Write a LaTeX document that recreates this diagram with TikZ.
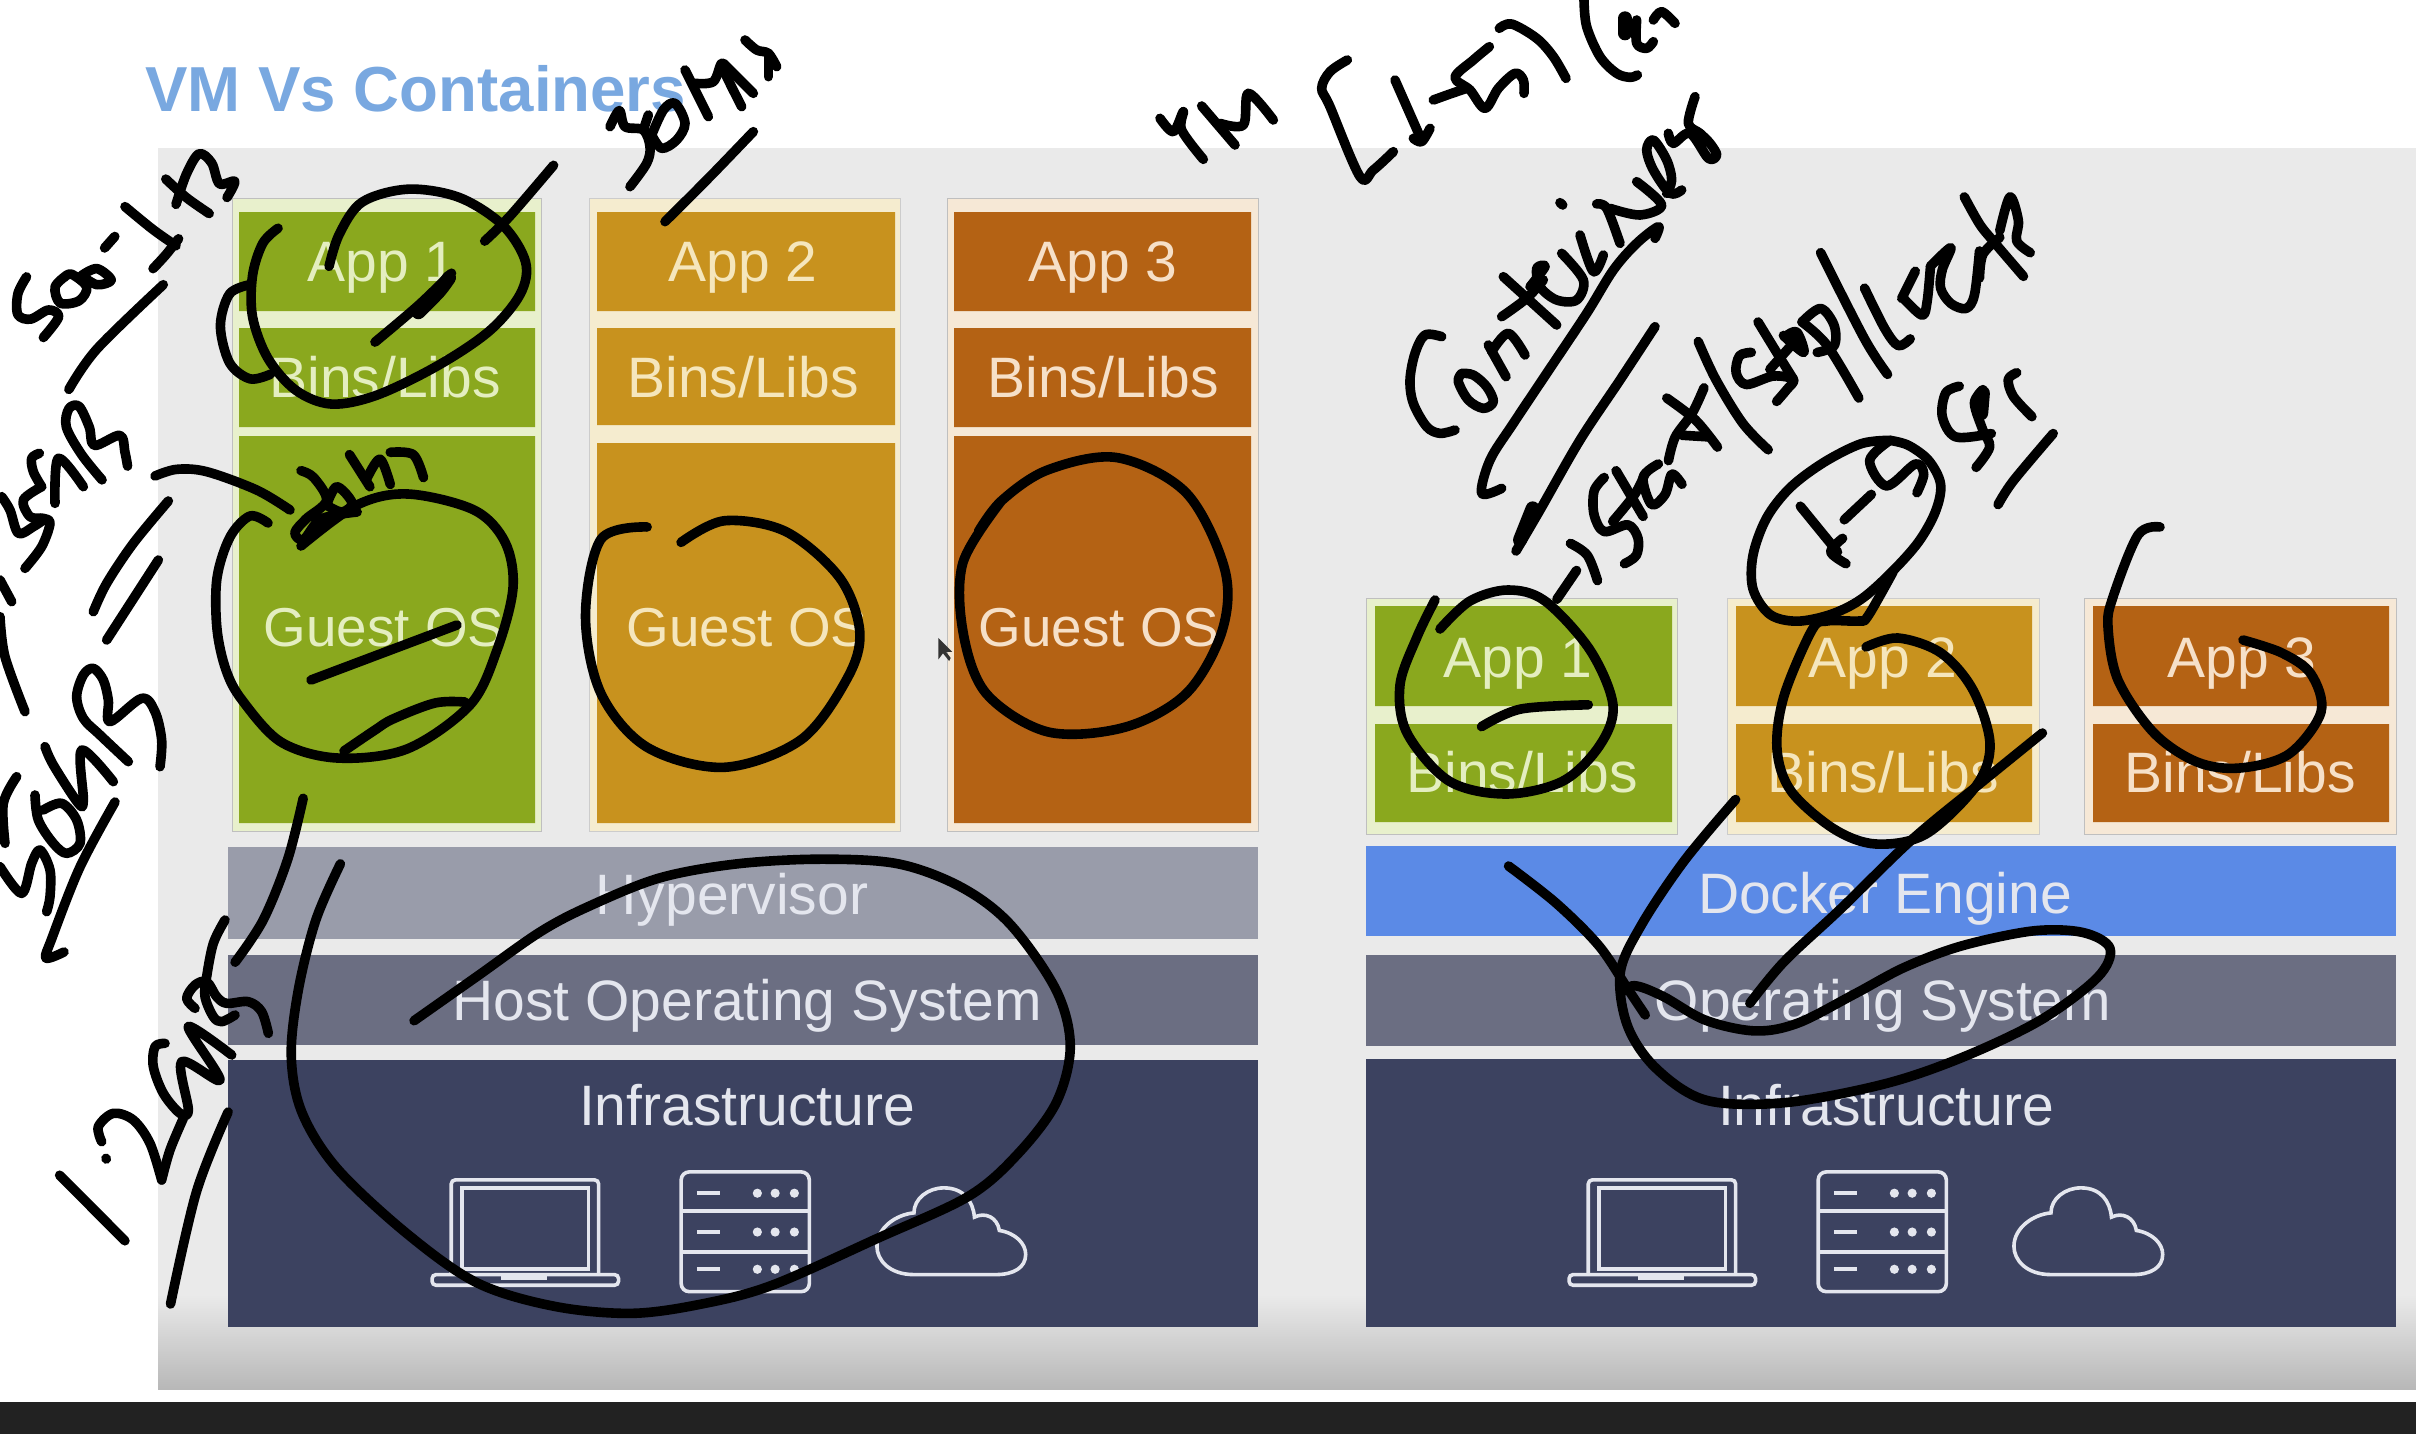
\documentclass[tikz,border=0pt]{standalone}
\usepackage{fontspec}
\setmainfont{Liberation Sans}
\definecolor{panelgray}{HTML}{EAEAEA}
\definecolor{titleblue}{HTML}{79A8E0}
\definecolor{gr}{HTML}{8AA81E}
\definecolor{grpale}{HTML}{E8F0CC}
\definecolor{grtxt}{HTML}{E4EEC0}
\definecolor{go}{HTML}{C8921E}
\definecolor{gopale}{HTML}{F5ECCF}
\definecolor{gotxt}{HTML}{F5E6BC}
\definecolor{br}{HTML}{B46214}
\definecolor{brpale}{HTML}{F6E8D6}
\definecolor{brtxt}{HTML}{F6E0C8}
\definecolor{hyp}{HTML}{999CAA}
\definecolor{hos}{HTML}{6B6E82}
\definecolor{inf}{HTML}{3C4260}
\definecolor{dock}{HTML}{5B8AE6}
\definecolor{lbl}{HTML}{E4E6EE}
\definecolor{barc}{HTML}{222222}
\newcommand{\inkp}[1]{\draw[ink] plot[smooth,tension=0.55] coordinates {#1};}
\newcommand{\inkt}[1]{\draw[ink,line width=7pt] plot[smooth,tension=0.55] coordinates {#1};}
\newcommand{\hwicons}{%
  \draw[icon,rounded corners=2pt] (405,1268)--(405,1090)--(612,1090)--(612,1268);
  \draw[icon] (420,1258) rectangle (598,1105);
  \draw[icon,rounded corners=2pt] (378,1268) rectangle (640,1288);
  \draw[icon,line width=2.4pt] (475,1274)--(540,1274);
  \draw[icon,rounded corners=4pt] (728,1075) rectangle (908,1300);
  \draw[icon] (728,1148)--(908,1148) (728,1225)--(908,1225);
  \foreach \yy in {1115,1188,1258}{
    \draw[icon,line width=2pt] (750,\yy)--(782,\yy);
    \foreach \xx in {835,860,887}{\fill[lbl] (\xx,\yy) circle[radius=2.3pt];}
  }
  \draw[icon] (1055,1268) .. controls (1020,1268) and (1003,1240) .. (1003,1215) .. controls (1003,1180) and (1030,1155) .. (1055,1152) .. controls (1055,1125) and (1075,1105) .. (1097,1105) .. controls (1125,1105) and (1138,1130) .. (1140,1160) .. controls (1155,1150) and (1172,1160) .. (1175,1185) .. controls (1198,1190) and (1212,1210) .. (1212,1230) .. controls (1212,1255) and (1195,1268) .. (1170,1268) -- cycle;
}
\tikzset{
  ink/.style={draw=black,line width=4.8pt,line cap=round,line join=round},
  icon/.style={draw=lbl,line width=1.8pt},
  lab/.style={anchor=base,inner sep=0pt,font=\fontsize{28.5}{30}\selectfont},
  labg/.style={anchor=base,inner sep=0pt,font=\fontsize{27.4}{30}\selectfont},
  zoomA/.style={x=0.2551pt,y=-0.2296pt},
  zoomB/.style={shift={(0,700)},x=0.3509pt,y=-0.2341pt},
  zoomC/.style={shift={(1100,0)},x=0.4202pt,y=-0.2296pt},
  zoomD/.style={shift={(1300,600)},x=0.3559pt,y=-0.2660pt},
  sq/.style 2 args={shift={(#1,#2)},x=0.16667pt,y=-0.16667pt},
  sqD/.style={shift={(1540,180)},x=0.16903pt,y=-0.16903pt},
  disp/.style={x=0.7704pt,y=-0.7704pt},
}
\begin{document}
\begin{tikzpicture}[x=0.5pt,y=-0.5pt]
\clip (0,0) rectangle (2416,1434);
\fill[white] (0,0) rectangle (2416,1434);
% panel and bottom bar
\fill[panelgray] (158,148) rectangle (2416,1295);
\shade[top color=panelgray,bottom color=black!28] (158,1295) rectangle (2416,1389);
\fill[barc] (0,1402) rectangle (2416,1434);
\node[anchor=base west,inner sep=0pt,text=titleblue,font=\bfseries\fontsize{31.8}{33}\selectfont] (title) at (145,112) {VM Vs Containers};
% VM stack
\fill[grpale,draw=black!25] (232,198) rectangle (541,831);
\fill[gopale,draw=black!20] (589,198) rectangle (900,831);
\fill[brpale,draw=black!25] (947,198) rectangle (1258,831);
\fill[gr] (239,212) rectangle (535,311) (239,328) rectangle (535,427) (239,436) rectangle (535,823);
\fill[go] (597,212) rectangle (895,311) (597,328) rectangle (895,425) (597,443) rectangle (895,823);
\fill[br] (954,212) rectangle (1251,311) (954,328) rectangle (1251,427) (954,436) rectangle (1251,823);
\fill[hyp] (228,847) rectangle (1258,939);
\fill[hos] (228,955) rectangle (1258,1045);
\fill[inf] (228,1060) rectangle (1258,1327);
% Container stack
\fill[grpale,draw=black!25] (1366,598) rectangle (1677,834);
\fill[gopale,draw=black!20] (1727,598) rectangle (2039,834);
\fill[brpale,draw=black!25] (2084,598) rectangle (2396,834);
\fill[gr] (1375,606) rectangle (1672,706) (1375,724) rectangle (1672,822);
\fill[go] (1736,606) rectangle (2032,706) (1736,724) rectangle (2032,822);
\fill[br] (2093,606) rectangle (2389,706) (2093,724) rectangle (2389,822);
\fill[dock] (1366,846) rectangle (2396,936);
\fill[hos] (1366,955) rectangle (2396,1046);
\fill[inf] (1366,1059) rectangle (2396,1327);
% labels
\node[lab,text=grtxt] (a1) at (382,281) {App 1};
\node[lab,text=grtxt] (b1) at (385,397) {Bins/Libs};
\node[labg,text=grtxt] (g1) at (384,646) {Guest OS};
\node[lab,text=gotxt] (a2) at (743,281) {App 2};
\node[lab,text=gotxt] (b2) at (743,397) {Bins/Libs};
\node[labg,text=gotxt] (g2) at (747,646) {Guest OS};
\node[lab,text=brtxt] (a3) at (1103,281) {App 3};
\node[lab,text=brtxt] (b3) at (1103,397) {Bins/Libs};
\node[labg,text=brtxt] (g3) at (1099,646) {Guest OS};
\node[lab,text=lbl] (hv) at (732,914) {Hypervisor};
\node[lab,text=lbl] (ho) at (747,1020) {Host Operating System};
\node[lab,text=lbl] (in1) at (747,1125) {Infrastructure};
\node[lab,text=grtxt] (ca1) at (1518,677) {App 1};
\node[lab,text=grtxt] (cb1) at (1522,792) {Bins/Libs};
\node[lab,text=gotxt] (ca2) at (1883,677) {App 2};
\node[lab,text=gotxt] (cb2) at (1883,792) {Bins/Libs};
\node[lab,text=brtxt] (ca3) at (2242,677) {App 3};
\node[lab,text=brtxt] (cb3) at (2240,792) {Bins/Libs};
\node[lab,text=lbl] (de) at (1885,913) {Docker Engine};
\node[lab,text=lbl] (os) at (1883,1020) {Operating System};
\node[lab,text=lbl] (in2) at (1886,1125) {Infrastructure};
% hardware icons
\begin{scope}[zoomD]\hwicons\end{scope}
\begin{scope}[shift={(-1137,0)}]\begin{scope}[zoomD]\hwicons\end{scope}\end{scope}
% mouse pointer
\begin{scope}[disp]
\fill[black!80] (609,414)--(609,428)--(612,424)--(616,429)--(617,427)--(614,423)--(618,423)--cycle;
\end{scope}
% ---------- handwriting ----------
\begin{scope}[zoomA]
% 500-1hrs
\inkp{(52,603)(35,640)(35,685)(60,695)(95,675)(115,690)(85,735)}
\inkp{(130,600)(108,625)(118,660)(155,655)(170,625)(140,597)(125,605)}
\inkp{(160,600)(190,585)(218,610)(190,620)(160,600)}
\inkp{(205,540)(225,515)}
\inkp{(245,450)(300,500)(345,535)}
\inkp{(350,520)(325,555)(300,585)}
\inkp{(325,390)(365,430)(410,465)}
\inkp{(345,445)(365,380)(390,335)(415,355)(430,400)(460,395)(445,430)}
\inkp{(320,620)(190,760)(135,848)}
% App 1 circle
\inkp{(645,580)(665,510)(710,440)(800,412)(900,430)(985,490)(1030,570)(1020,640)(960,720)(860,795)(740,860)(650,880)(580,850)(525,780)(495,690)(495,600)(515,530)(545,497)}
\inkp{(490,620)(450,640)(432,710)(450,790)(490,825)(530,815)}
\inkp{(950,525)(1000,470)(1085,360)}
\inkp{(735,745)(820,665)(885,595)}
\inkt{(820,680)(860,635)(880,605)}
% 30GB
\inkp{(200,1045)(160,990)(130,930)(135,890)(155,885)(175,930)(185,970)(235,948)(245,985)(250,1015)}
% small 2GB
\inkp{(590,1025)(615,1040)(640,1090)(600,1130)(578,1160)(595,1175)(630,1130)(700,1115)}
\inkp{(640,1100)(670,1115)(690,1095)(660,1060)(640,1100)}
\inkp{(685,990)(725,1060)}
\inkp{(720,1040)(745,1000)(765,1055)}
\inkp{(765,985)(810,990)(830,1040)}
\end{scope}
\begin{scope}[sq={580}{20}]
% 300ms
\inkp{(90,320)(118,272)(135,320)(190,330)(210,380)(200,430)(150,500)}
\inkp{(190,330)(205,285)}
\inkp{(215,345)(245,385)(290,360)(315,310)(285,250)(250,270)(215,345)}
\inkp{(315,150)(385,290)}
\inkp{(345,190)(400,185)(425,130)(440,170)(485,260)}
\inkp{(430,130)(520,220)}
\inkp{(495,60)(530,90)(565,100)(590,140)}
\inkp{(565,100)(565,170)}
\inkp{(520,335)(390,470)(255,605)}
\end{scope}
\begin{scope}[sq={0}{420}]
\inkp{(118,100)(95,115)(100,155)(125,200)}
\inkp{(165,250)(175,115)(250,200)}
\inkp{(125,200)(70,240)(90,290)(130,295)(150,310)(125,380)(75,445)}
\inkp{(5,230)(30,270)(55,340)(100,320)(130,300)}
\inkp{(0,480)(35,545)}
\inkp{(0,590)(15,710)(75,875)}
\inkp{(505,243)(400,370)(320,490)(280,575)}
\inkp{(475,420)(320,660)}
\inkp{(465,168)(530,148)(620,155)(770,210)(870,270)}
\end{scope}
% guest OS 1 circle, leaf and dash (picture pixels)
\inkp{(268,523)(250,516)(230,537)(217,578)(217,629)(226,670)(242,700)(281,742)(337,758)(407,749)(470,705)(497,650)(513,588)(505,542)(474,510)(408,494)(357,505)(301,546)}
\inkp{(344,751)(375,730)(393,719)(435,703)(465,702)}
\inkp{(311,680)(457,625)}
\begin{scope}[sq={0}{640}]
\inkp{(385,365)(300,285)(250,235)(230,170)(250,105)(280,85)(310,120)(325,180)(330,245)(425,175)(465,215)(485,300)(480,380)}
\inkp{(135,320)(160,375)(235,490)(250,480)(245,330)(340,425)}
\inkp{(105,465)(115,540)(160,610)(200,640)(240,610)(230,540)(185,490)(130,510)}
\inkp{(50,410)(10,490)(15,610)}
\inkp{(0,680)(65,760)(95,670)(120,630)(150,690)(150,770)(140,815)}
\end{scope}
\inkp{(115,802)(80,867)(52,938)(46,958)(64,952)}
\begin{scope}[zoomB]
\inkp{(432,210)(410,340)(375,470)(335,560)}
\inkp{(85,1015)(178,1155)}
\inkp{(325,880)(280,1050)(243,1290)}
\inkp{(485,350)(450,470)(425,620)(415,760)(430,880)(480,1000)(580,1140)(680,1245)(790,1295)(900,1310)(1000,1290)(1100,1250)(1250,1150)(1380,1060)(1450,970)(1505,860)(1525,740)(1505,620)(1440,480)(1370,400)(1280,350)(1170,340)(1050,350)(940,380)(840,440)(770,495)(680,590)(590,685)}
\end{scope}
\begin{scope}[sq={40}{900}]
% 1.2GB
\inkp{(555,60)(520,130)(500,230)(495,290)(520,350)(545,365)(585,345)}
\inkp{(465,325)(440,295)(465,255)(500,245)(530,290)(560,310)(625,305)(665,335)(685,400)}
\inkp{(375,430)(345,440)(340,500)(370,580)(420,640)(445,630)(425,485)(540,540)(445,380)(575,465)}
\inkp{(185,725)(175,680)(220,640)(280,660)(330,730)(365,840)}
\inkp{(198,775)(199,777)}
\inkp{(430,655)(390,750)(365,840)}
\end{scope}
\begin{scope}[disp]
\inkp{(420,342)(390,350)(380,400)(390,450)(420,485)(470,498)(520,480)(550,440)(558,410)(545,375)(510,345)(470,338)(442,352)}
\inkp{(650,325)(625,365)(625,410)(640,450)(680,475)(730,472)(770,450)(793,410)(795,370)(770,320)(725,297)(680,305)(650,325)(635,345)}
\end{scope}
\begin{scope}[sq={1140}{0}]
% VM [1-
\inkp{(60,355)(100,395)(130,335)(125,390)(190,478)}
\inkp{(185,318)(285,435)}
\inkp{(240,370)(310,375)(325,280)(400,360)}
\inkp{(622,180)(570,215)(545,265)(570,320)(660,530)(700,510)(760,455)}
\inkp{(765,240)(840,410)}
\inkp{(820,415)(845,425)(870,385)}
\end{scope}
\begin{scope}[sq={1440}{0}]
% -5) (2
\inkp{(-20,300)(30,282)(80,265)}
\inkp{(148,140)(100,180)(45,232)(90,270)(135,325)(175,265)(225,220)(250,240)(252,280)}
\inkp{(178,85)(215,72)(290,115)(340,170)(378,235)}
\inkp{(432,0)(440,80)(480,170)(530,220)(570,232)(592,225)}
\inkt{(555,55)(555,100)}
\inkp{(590,60)(590,130)(620,145)(640,125)}
\inkp{(640,60)(665,35)(705,70)}
\end{scope}
\begin{scope}[sq={1380}{80}]
% Containers
\inkp{(185,770)(135,765)(105,820)(90,900)(100,970)(140,1040)(180,1060)(225,1050)}
\inkp{(245,880)(235,905)(265,960)(310,985)(340,965)(320,920)(280,885)(245,880)}
\inkp{(325,795)(378,890)}
\inkp{(335,815)(385,760)(435,825)}
\inkp{(370,590)(530,735)}
\inkp{(365,710)(440,655)(490,600)}
\inkp{(450,620)(495,560)(470,565)(480,620)(530,660)(590,660)(610,600)(545,520)}
\inkp{(600,465)(640,575)(670,525)}
\inkp{(540,368)(548,375)}
\inkp{(650,372)(680,385)(720,490)}
\inkp{(690,385)(780,405)(845,375)(770,305)}
\inkp{(905,330)(870,340)(820,270)(800,210)(820,180)(860,240)(875,300)(860,340)}
\inkp{(865,160)(880,190)(930,160)(985,235)(1010,225)(990,190)(960,160)(925,130)(945,50)}
\inkp{(825,475)(835,440)(770,490)(700,570)(620,700)(500,880)(400,1030)(330,1140)(305,1240)(365,1225)}
\inkp{(825,740)(720,900)(600,1080)(480,1290)(408,1413)}
\inkt{(458,1285)(420,1380)}
\end{scope}
\begin{scope}[sqD]
% -> Start | Stop | recreate
\inkp{(90,1075)(140,1110)(170,1185)}
\inkp{(108,1155)(50,1240)}
\inkp{(190,880)(160,920)(160,990)(190,1040)(260,1020)(290,1060)(285,1110)(250,1135)}
\inkp{(225,860)(305,995)}
\inkp{(215,1010)(280,930)(310,870)}
\inkp{(350,840)(305,880)(330,960)(370,930)(390,870)(420,900)}
\inkp{(375,645)(460,710)(525,790)}
\inkp{(485,615)(450,690)(400,760)(380,830)}
\inkp{(500,760)(420,755)}
\inkp{(468,478)(520,590)(600,720)(675,798)}
\inkp{(625,510)(590,520)(580,570)(610,605)(690,580)(750,590)(730,620)(700,655)}
\inkp{(645,420)(700,510)(750,590)}
\inkp{(680,560)(760,470)}
\inkp{(720,460)(780,510)(760,450)(730,460)}
\inkp{(775,420)(830,380)(870,430)(870,490)(820,510)}
\inkp{(775,420)(850,490)(943,645)}
\inkp{(830,215)(960,470)(1028,575)}
\inkp{(960,320)(1020,440)(1060,490)(1095,470)}
\inkp{(1070,350)(1110,270)}
\inkp{(1075,350)(1130,400)(1145,360)(1155,255)}
\inkp{(1155,255)(1215,200)(1190,265)(1185,320)(1215,365)(1260,380)(1285,340)(1300,210)}
\inkp{(1255,50)(1300,130)(1340,180)(1430,285)}
\inkp{(1360,150)(1390,50)(1415,120)(1410,180)(1450,215)}
\inkp{(1300,290)(1310,220)(1360,170)}
% 1-5 ellipse
\inkp{(1035,770)(950,780)(840,835)(740,910)(670,1000)(630,1110)(630,1210)(680,1285)(760,1305)(860,1285)(950,1240)(1040,1160)(1120,1070)(1170,980)(1185,900)(1150,830)(1090,785)(1035,770)}
\inkp{(770,965)(880,1100)}
\inkp{(895,1060)(860,1100)(905,1135)}
\inkp{(900,1005)(980,930)}
\inkp{(1035,770)(975,830)(1025,905)(1110,840)(1135,870)(1115,925)}
% sec
\inkp{(1240,610)(1200,630)(1190,700)(1230,760)(1335,750)}
\inkp{(1310,620)(1285,660)(1310,740)(1330,790)(1290,850)}
\inkt{(1310,630)(1305,690)}
\inkp{(1410,570)(1385,590)(1400,640)(1455,700)}
\inkp{(1518,750)(1400,890)(1355,960)}
\end{scope}
% container app 1 circle
\inkp{(1440,629)(1470,601)(1508,590)(1545,601)(1590,650)(1613,705)(1600,745)(1563,781)(1506,794)(1449,781)(1407,733)(1400,685)(1417,637)(1435,600)}
% container app 2 circle with tail
\inkp{(1893,572)(1868,616)(1859,621)(1827,621)(1812,630)(1784,696)(1777,749)(1791,791)(1834,829)(1876,844)(1926,834)(1976,786)(1990,744)(1973,690)(1941,653)(1898,638)(1866,647)}
% container app 3 arc
\inkp{(2160,527)(2138,535)(2113,597)(2108,627)(2118,680)(2154,733)(2197,762)(2240,768)(2289,754)(2321,712)(2311,674)(2282,653)(2243,640)}
\begin{scope}[zoomD]
\inkp{(255,238)(310,205)(405,197)}
\inkp{(293,500)(360,570)(420,650)(460,730)(485,780)}
\inkp{(612,375)(540,490)(480,610)(450,700)(460,800)(500,880)(570,940)(680,945)(820,910)(930,860)(1040,790)(1120,710)(1138,655)(1100,625)(1030,622)(930,650)(850,690)(780,740)(700,795)(640,810)(570,790)(510,745)(470,725)(450,740)}
\inkp{(1043,250)(960,340)(860,450)(760,580)(680,680)(632,758)}
\end{scope}
\end{tikzpicture}
\end{document}
